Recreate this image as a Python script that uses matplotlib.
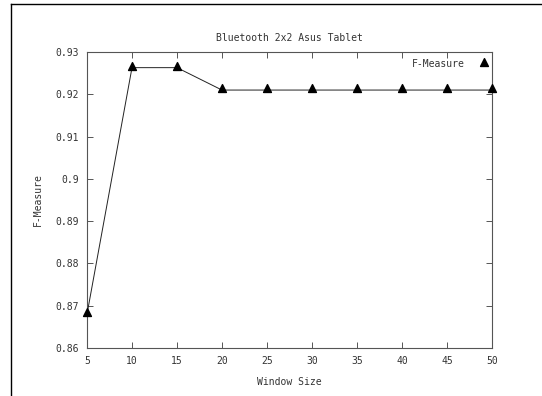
import matplotlib.pyplot as plt
import numpy as np
from matplotlib.path import Path
from matplotlib.lines import Line2D

# dimensione della finestra e F-measure corrispondente
window = [5, 10, 15, 20, 25, 30, 35, 40, 45, 50]
fmeasure = [0.868, 0.9263, 0.9263, 0.921, 0.921, 0.921, 0.921, 0.921, 0.921, 0.921]

xticks = [5, 10, 15, 20, 25, 30, 35, 40, 45, 50]
yticks = [0.86, 0.87, 0.88, 0.89, 0.9, 0.91, 0.92, 0.93]
ytick_labels = ['0.86', '0.87', '0.88', '0.89', '0.9', '0.91', '0.92', '0.93']

# triangolo stile gnuplot: il punto sta vicino alla base
tri = Path([(-1, -0.5), (1, -0.5), (0, 1.5), (-1, -0.5)],
           [Path.MOVETO, Path.LINETO, Path.LINETO, Path.CLOSEPOLY])

plt.rcParams['font.family'] = 'DejaVu Sans Mono'
testo = '#333333'

fig = plt.figure(figsize=(5.42, 3.96), dpi=100)
ax = fig.add_axes([87/542, 1 - 348/396, 405/542, 296/396])

ax.plot(window, fmeasure, color='#222222', lw=0.7, marker=tri, ms=8.5,
        mfc='black', mec='black', clip_on=False, zorder=3)

ax.set_xlim(5, 50)
ax.set_ylim(0.86, 0.93)
ax.set_xticks(xticks)
ax.set_yticks(yticks)
ax.set_yticklabels(ytick_labels)
ax.tick_params(direction='in', length=4, width=0.7, color='#555555',
               top=True, right=True, labelsize=7, labelcolor=testo, pad=6)
for s in ax.spines.values():
    s.set_color('#555555')
    s.set_linewidth(0.8)

ax.set_title('Bluetooth 2x2 Asus Tablet', fontsize=7, color=testo, pad=8)
ax.set_xlabel('Window Size', fontsize=7, color=testo, labelpad=8)
ax.set_ylabel('F-Measure', fontsize=7, color=testo, labelpad=9)

h = Line2D([], [], ls='none', marker=tri, ms=8.5, mfc='black', mec='black')
ax.legend([h], ['F-Measure'], loc='upper right', frameon=False, markerfirst=False,
          fontsize=7, labelcolor=testo, handletextpad=1.4, handlelength=1.2,
          bbox_to_anchor=(1.01, 0.995), borderaxespad=0.2)

# cornice attorno all'immagine
fig.add_artist(Line2D([11/542, 11/542], [0, 1 - 4/396], color='black', lw=1.0,
                      transform=fig.transFigure))
fig.add_artist(Line2D([11/542, 1], [1 - 4/396, 1 - 4/396], color='black', lw=1.0,
                      transform=fig.transFigure))

fig.savefig('out.png', dpi=100)
